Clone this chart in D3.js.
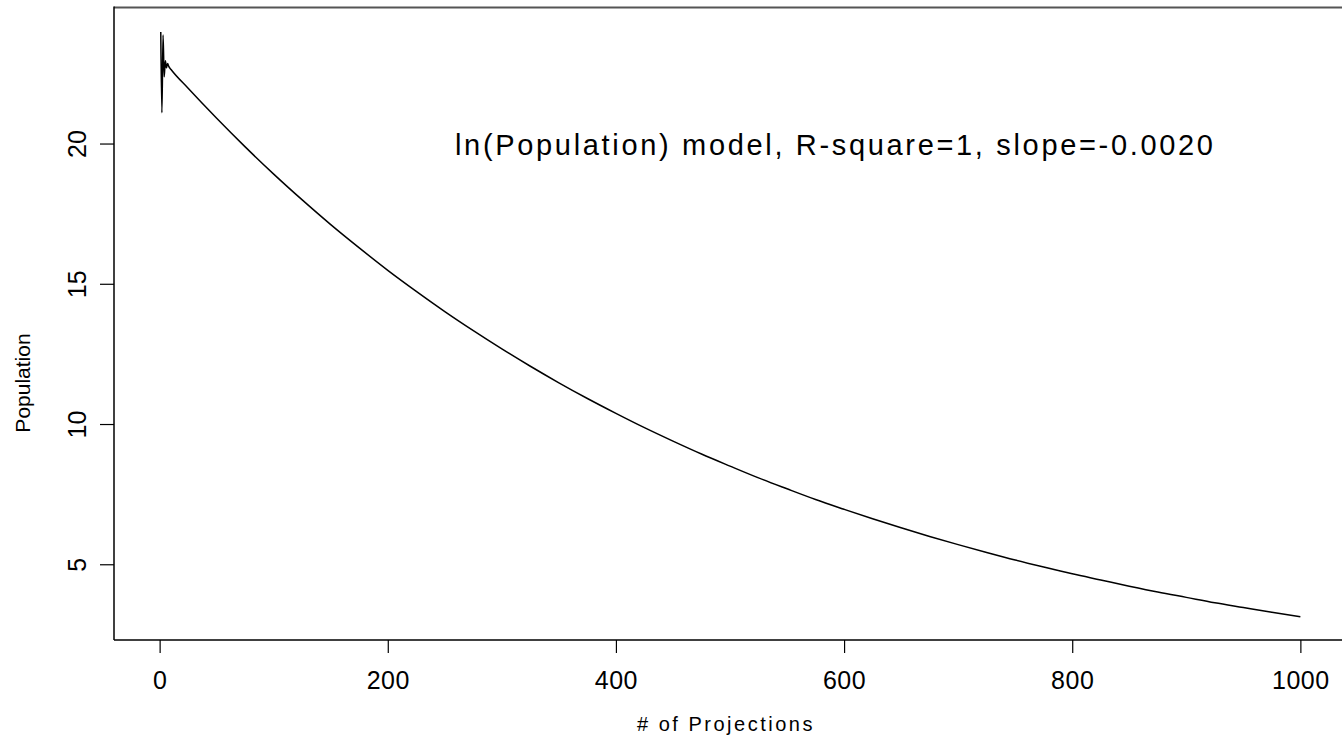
<!DOCTYPE html>
<html>
<head>
<meta charset="utf-8">
<script src="https://cdn.jsdelivr.net/npm/d3@7/dist/d3.min.js"></script>
<style>
  html, body { margin: 0; padding: 0; background: #fff; }
  svg { display: block; }
  text { font-family: "Liberation Sans", Arial, sans-serif; fill: #000; }
</style>
</head>
<body>
<svg id="chart" width="1342" height="740"></svg>
<script>
// Projection index and projected population
const projections = [1, 2, 3, 4, 5, 6, 7, 8, 10,
  25, 50, 75, 100, 125, 150, 175, 200, 225, 250, 275, 300,
  325, 350, 375, 400, 425, 450, 475, 500, 525, 550, 575, 600,
  625, 650, 675, 700, 725, 750, 775, 800, 825, 850, 875, 900,
  925, 950, 975, 1000];
const population = [23.98, 21.1, 23.87, 22.38, 22.95, 22.7, 22.85, 22.75, 22.64,
  21.97, 20.90, 19.88, 18.91, 17.99, 17.11, 16.28, 15.48, 14.73, 14.01, 13.33, 12.68,
  12.06, 11.47, 10.91, 10.38, 9.87, 9.39, 8.93, 8.50, 8.08, 7.69, 7.31, 6.96,
  6.62, 6.30, 5.99, 5.70, 5.42, 5.15, 4.90, 4.66, 4.44, 4.22, 4.01, 3.82,
  3.63, 3.46, 3.29, 3.13];

const xTicks = [0, 200, 400, 600, 800, 1000];
const yTicks = [5, 10, 15, 20];

const xTitle = "# of Projections";
const yTitle = "Population";
const note = "ln(Population) model, R-square=1, slope=-0.0020";

const svg = d3.select("#chart");
const plot = { left: 114, right: 1346, top: 7.5, bottom: 640 };

const x = d3.scaleLinear().domain([-40, 1040]).range([plot.left, plot.right]);
const y = d3.scaleLinear().domain([2.3, 24.85]).range([plot.bottom, plot.top]);

// frame: left and bottom in black, top in dark grey
svg.append("line")
  .attr("x1", plot.left).attr("x2", plot.right)
  .attr("y1", plot.top).attr("y2", plot.top)
  .attr("stroke", "#555").attr("stroke-width", 2);
svg.append("line")
  .attr("x1", plot.left).attr("x2", plot.left)
  .attr("y1", plot.top - 1).attr("y2", plot.bottom)
  .attr("stroke", "#000").attr("stroke-width", 1.5);
svg.append("line")
  .attr("x1", plot.left).attr("x2", plot.right)
  .attr("y1", plot.bottom).attr("y2", plot.bottom)
  .attr("stroke", "#000").attr("stroke-width", 1.5);

// x axis
const xAxis = svg.append("g")
  .attr("transform", `translate(0,${plot.bottom})`)
  .call(d3.axisBottom(x).tickValues(xTicks).tickSize(13).tickPadding(18).tickFormat(d3.format("d")));
xAxis.select(".domain").remove();
xAxis.selectAll(".tick line").attr("stroke", "#000").attr("stroke-width", 1.2);
xAxis.selectAll(".tick text")
  .style("font-family", '"Liberation Sans", Arial, sans-serif')
  .style("font-size", "25px")
  .style("letter-spacing", "0.5px")
  .attr("fill", "#000");

// y axis with rotated labels
const yAxis = svg.append("g")
  .attr("transform", `translate(${plot.left},0)`)
  .call(d3.axisLeft(y).tickValues(yTicks).tickSize(14).tickFormat(d3.format("d")));
yAxis.select(".domain").remove();
yAxis.selectAll(".tick line").attr("stroke", "#000").attr("stroke-width", 1.2);
yAxis.selectAll(".tick text")
  .attr("x", null).attr("dy", null)
  .attr("transform", "translate(-37,0) rotate(-90)")
  .attr("text-anchor", "middle")
  .attr("dominant-baseline", "central")
  .style("font-family", '"Liberation Sans", Arial, sans-serif')
  .style("font-size", "25px")
  .attr("fill", "#000");

// axis titles
svg.append("text")
  .attr("x", 726).attr("y", 731)
  .attr("text-anchor", "middle")
  .style("font-size", "20px")
  .style("letter-spacing", "2.5px")
  .text(xTitle);

svg.append("text")
  .attr("transform", `translate(30,383) rotate(-90)`)
  .attr("text-anchor", "middle")
  .style("font-size", "21px")
  .text(yTitle);

// model annotation
svg.append("text")
  .attr("x", 455).attr("y", 155)
  .style("font-size", "29px")
  .style("letter-spacing", "2.67px")
  .text(note);

// population curve
const line = d3.line()
  .x((d, i) => x(projections[i]))
  .y(d => y(d))
  .curve(d3.curveMonotoneX);

svg.append("path")
  .datum(population)
  .attr("d", line)
  .attr("fill", "none")
  .attr("stroke", "#000")
  .attr("stroke-width", 1.5);
</script>
</body>
</html>
